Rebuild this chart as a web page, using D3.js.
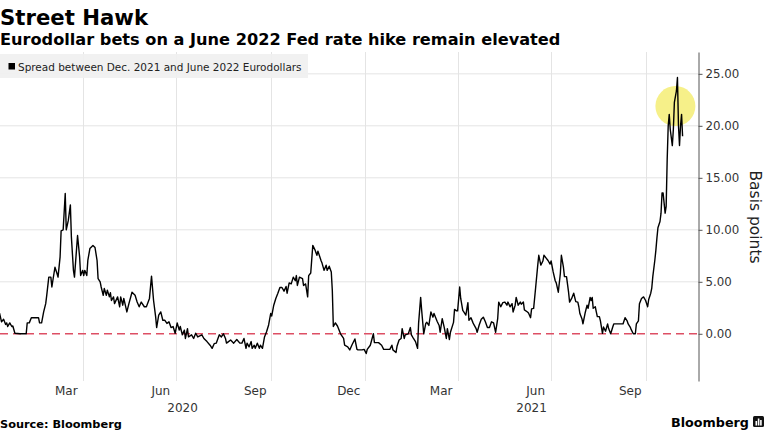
<!DOCTYPE html>
<html><head><meta charset="utf-8">
<script src="https://cdn.jsdelivr.net/npm/d3@7"></script>
<style>body{margin:0;background:#fff}svg{display:block}</style>
</head><body>
<svg id="c" width="768" height="432"></svg>
<script>
const title = "Street Hawk";
const subtitle = "Eurodollar bets on a June 2022 Fed rate hike remain elevated";
const legendLabel = "Spread between Dec. 2021 and June 2022 Eurodollars";
const axisTitle = "Basis points";
const source = "Source: Bloomberg";

// [date, spread in basis points]
const spread = [
["2020-01-11",2.0],["2020-01-13",1.15],["2020-01-15",1.4],["2020-01-17",0.9],["2020-01-18",1.05],["2020-01-19",0.7],["2020-01-21",1.05],["2020-01-23",0.7],["2020-01-24",0.75],["2020-01-26",0.05],["2020-01-31",0.0],
["2020-02-06",0.0],["2020-02-07",1.05],["2020-02-09",1.05],["2020-02-11",1.55],["2020-02-18",1.55],["2020-02-19",1.05],["2020-02-21",1.05],["2020-02-23",2.1],["2020-02-25",2.9],["2020-02-26",3.7],["2020-02-28",5.45],
["2020-03-01",5.45],["2020-03-02",4.5],["2020-03-03",5.15],["2020-03-05",6.4],["2020-03-07",5.8],["2020-03-08",5.45],["2020-03-10",7.4],["2020-03-11",9.9],["2020-03-13",10.0],["2020-03-15",13.5],["2020-03-16",10.0],["2020-03-18",10.9],["2020-03-20",12.4],["2020-03-21",9.3],["2020-03-23",6.1],["2020-03-24",5.45],["2020-03-27",9.45],["2020-03-29",7.4],["2020-03-30",5.6],
["2020-04-01",6.1],["2020-04-02",5.6],["2020-04-03",6.1],["2020-04-05",5.6],["2020-04-06",7.05],["2020-04-08",8.2],["2020-04-11",8.5],["2020-04-13",8.3],["2020-04-15",7.05],["2020-04-16",5.3],["2020-04-18",5.0],["2020-04-19",4.5],["2020-04-21",3.7],["2020-04-22",4.35],["2020-04-24",3.7],["2020-04-25",4.2],["2020-04-27",3.55],["2020-04-28",3.95],["2020-04-29",3.2],
["2020-05-01",3.55],["2020-05-02",2.9],["2020-05-05",3.55],["2020-05-07",2.6],["2020-05-08",3.55],["2020-05-10",2.75],["2020-05-11",3.4],["2020-05-14",2.1],["2020-05-16",2.9],["2020-05-19",4.0],["2020-05-22",3.7],["2020-05-24",3.05],["2020-05-26",2.6],["2020-05-28",3.05],["2020-05-31",2.6],
["2020-06-02",2.6],["2020-06-05",3.4],["2020-06-07",5.55],["2020-06-09",3.2],["2020-06-11",1.65],["2020-06-12",0.6],["2020-06-14",1.8],["2020-06-16",2.1],["2020-06-18",1.3],["2020-06-20",1.3],["2020-06-22",1.0],["2020-06-24",1.15],["2020-06-26",0.6],["2020-06-28",0.7],["2020-06-30",0.05],
["2020-07-02",1.05],["2020-07-04",0.35],["2020-07-05",0.7],["2020-07-07",-0.1],["2020-07-09",0.35],["2020-07-10",-0.45],["2020-07-12",0.5],["2020-07-13",-0.3],["2020-07-16",-0.1],["2020-07-18",-0.45],["2020-07-20",0.05],["2020-07-22",-0.3],["2020-07-26",-0.1],["2020-07-28",-0.45],["2020-07-31",-0.75],
["2020-08-03",-1.1],["2020-08-05",-1.4],["2020-08-07",-0.95],["2020-08-09",-0.9],["2020-08-12",-0.1],["2020-08-14",-0.3],["2020-08-16",0.0],["2020-08-18",-0.45],["2020-08-19",-0.9],["2020-08-21",-0.75],["2020-08-23",-0.6],["2020-08-26",-0.9],["2020-08-29",-0.55],
["2020-09-01",-0.9],["2020-09-03",-0.9],["2020-09-05",-0.45],["2020-09-07",-1.4],["2020-09-08",-0.9],["2020-09-10",-1.25],["2020-09-12",-0.75],["2020-09-13",-1.4],["2020-09-15",-1.1],["2020-09-16",-1.4],["2020-09-18",-0.9],["2020-09-20",-1.4],["2020-09-21",-1.1],["2020-09-23",-1.4],["2020-09-25",-0.3],["2020-09-27",0.2],["2020-09-29",0.85],
["2020-10-01",1.95],["2020-10-02",1.7],["2020-10-04",2.75],["2020-10-06",3.4],["2020-10-08",3.9],["2020-10-10",4.45],["2020-10-12",4.45],["2020-10-14",4.1],["2020-10-16",4.55],["2020-10-17",3.9],["2020-10-19",4.9],["2020-10-21",4.8],["2020-10-23",5.45],["2020-10-25",5.1],["2020-10-26",5.6],["2020-10-27",4.65],["2020-10-29",5.45],
["2020-11-01",5.3],["2020-11-02",4.65],["2020-11-04",4.8],["2020-11-06",3.55],["2020-11-07",5.6],["2020-11-09",5.85],["2020-11-11",8.5],["2020-11-13",8.1],["2020-11-15",7.55],["2020-11-16",7.95],["2020-11-19",7.05],["2020-11-20",6.8],["2020-11-22",6.1],["2020-11-24",6.6],["2020-11-25",6.1],["2020-11-27",6.5],["2020-11-29",5.95],["2020-11-30",4.2],
["2020-12-01",0.7],["2020-12-03",1.05],["2020-12-05",0.75],["2020-12-06",0.5],["2020-12-08",0.0],["2020-12-10",-0.3],["2020-12-11",-0.45],["2020-12-12",-1.1],["2020-12-15",-1.25],["2020-12-17",-1.55],["2020-12-19",-1.1],["2020-12-22",-0.5],["2020-12-24",-1.5],["2020-12-25",-1.55],["2020-12-29",-1.55],["2020-12-31",-1.5],
["2021-01-02",-1.9],["2021-01-03",-1.5],["2021-01-06",-1.1],["2021-01-09",0.0],["2021-01-10",-0.85],["2021-01-14",-0.85],["2021-01-17",-1.1],["2021-01-19",-1.5],["2021-01-22",-1.5],["2021-01-25",-1.5],["2021-01-27",-1.1],["2021-01-28",-1.55],["2021-01-31",-1.8],
["2021-02-01",-1.2],["2021-02-03",-0.6],["2021-02-05",-0.45],["2021-02-06",0.5],["2021-02-08",-0.45],["2021-02-09",-0.1],["2021-02-12",0.0],["2021-02-14",0.6],["2021-02-15",-0.1],["2021-02-17",-0.45],["2021-02-19",-0.75],["2021-02-21",-1.4],["2021-02-22",1.0],["2021-02-24",3.5],["2021-02-25",2.25],["2021-02-27",0.0],
["2021-03-01",1.0],["2021-03-02",1.1],["2021-03-04",0.8],["2021-03-06",2.1],["2021-03-08",1.6],["2021-03-09",1.95],["2021-03-12",1.2],["2021-03-14",0.8],["2021-03-15",0.15],["2021-03-17",1.45],["2021-03-19",0.6],["2021-03-21",-0.45],["2021-03-22",0.5],["2021-03-24",-0.55],["2021-03-25",0.15],["2021-03-28",1.1],["2021-03-29",2.35],["2021-03-31",2.2],
["2021-04-01",2.2],["2021-04-03",4.5],["2021-04-04",3.4],["2021-04-06",2.25],["2021-04-07",2.1],["2021-04-09",1.8],["2021-04-11",3.0],["2021-04-12",1.3],["2021-04-14",1.55],["2021-04-16",1.05],["2021-04-17",0.85],["2021-04-19",0.5],["2021-04-20",0.15],["2021-04-22",0.85],["2021-04-24",1.4],["2021-04-26",1.6],["2021-04-28",1.15],["2021-04-30",0.6],
["2021-05-02",0.6],["2021-05-04",1.15],["2021-05-06",1.05],["2021-05-08",0.15],["2021-05-10",1.45],["2021-05-11",3.05],["2021-05-13",2.6],["2021-05-15",3.0],["2021-05-17",3.05],["2021-05-19",2.75],["2021-05-20",3.05],["2021-05-22",2.6],["2021-05-24",2.9],["2021-05-25",2.1],["2021-05-27",2.75],["2021-05-28",3.5],["2021-05-30",2.75],
["2021-06-01",3.05],["2021-06-02",2.85],["2021-06-04",3.05],["2021-06-05",2.3],["2021-06-08",2.1],["2021-06-09",2.0],["2021-06-11",1.55],["2021-06-12",2.4],["2021-06-14",2.45],["2021-06-16",4.5],["2021-06-18",6.6],["2021-06-19",7.55],["2021-06-21",6.6],["2021-06-23",7.0],["2021-06-24",7.55],["2021-06-26",7.3],["2021-06-28",7.05],["2021-06-30",6.7],
["2021-07-01",7.0],["2021-07-03",5.95],["2021-07-05",5.1],["2021-07-06",4.9],["2021-07-08",4.0],["2021-07-10",5.8],["2021-07-11",7.55],["2021-07-13",6.4],["2021-07-14",5.5],["2021-07-16",5.5],["2021-07-18",4.0],["2021-07-19",3.05],["2021-07-21",3.4],["2021-07-23",3.9],["2021-07-25",3.1],["2021-07-27",3.05],["2021-07-28",2.6],["2021-07-29",1.95],["2021-07-31",1.45],
["2021-08-01",0.95],["2021-08-03",1.95],["2021-08-05",2.75],["2021-08-06",2.45],["2021-08-08",3.5],["2021-08-09",3.2],["2021-08-10",3.5],["2021-08-11",2.45],["2021-08-13",2.6],["2021-08-14",2.1],["2021-08-15",1.65],["2021-08-17",1.65],["2021-08-18",1.25],["2021-08-20",0.05],["2021-08-21",0.65],["2021-08-23",0.25],["2021-08-25",0.95],["2021-08-26",0.5],["2021-08-28",0.0],["2021-08-30",0.65],["2021-08-31",0.95],
["2021-09-06",0.95],["2021-09-09",0.95],["2021-09-11",1.55],["2021-09-13",1.25],["2021-09-14",0.95],["2021-09-16",0.65],["2021-09-17",0.4],["2021-09-19",0.0],["2021-09-21",0.0],["2021-09-22",0.95],["2021-09-24",1.25],["2021-09-25",2.9],["2021-09-27",3.4],["2021-09-29",3.55],
["2021-10-01",3.2],["2021-10-03",2.6],["2021-10-04",3.3],["2021-10-06",3.9],["2021-10-07",4.4],["2021-10-08",5.5],["2021-10-10",7.1],["2021-10-11",8.05],["2021-10-12",9.2],["2021-10-13",10.2],["2021-10-15",10.8],["2021-10-16",11.6],["2021-10-17",13.55],["2021-10-18",13.55],["2021-10-20",11.6],["2021-10-21",12.25],["2021-10-22",16.75],["2021-10-23",20.0],["2021-10-24",21.1],["2021-10-25",19.65],["2021-10-27",18.1],["2021-10-28",19.65],["2021-10-29",22.25],["2021-10-31",23.35],
["2021-11-01",24.65],["2021-11-02",20.0],["2021-11-03",18.1],["2021-11-04",20.0],["2021-11-05",21.1],["2021-11-06",19.0]
];

const yTicks = [0, 5, 10, 15, 20, 25];
const monthLabelDates = ["2020-03-16","2020-06-16","2020-09-16","2020-12-16","2021-03-16","2021-06-16","2021-09-16"];
const monthLabels = ["Mar","Jun","Sep","Dec","Mar","Jun","Sep"];
const quarterGrid = ["2020-04-01","2020-07-01","2020-10-01","2021-01-01","2021-04-01","2021-07-01","2021-10-01"];
const years = ["2020","2021"];
const xDomain = ["2020-01-11T12:00","2021-11-21T00:00"];
const yDomain = [-4.54, 27.1];
const highlight = {date: "2021-10-30", value: 21.9};

const parse = d3.utcParse("%Y-%m-%d");
const parseT = d3.utcParse("%Y-%m-%dT%H:%M");
const svg = d3.select("#c");
const plot = {left: 0, right: 698, top: 52, bottom: 381};

const x = d3.scaleUtc().domain(xDomain.map(parseT)).range([plot.left, plot.right]);
const y = d3.scaleLinear().domain(yDomain).range([plot.bottom, plot.top]);

const FONT = "'DejaVu Sans', Verdana, sans-serif";
function fit(sel, target) {
  const w = sel.node().getComputedTextLength();
  const fs = parseFloat(sel.attr("font-size"));
  sel.attr("font-size", (fs * target / w).toFixed(2));
}

// Titles
fit(svg.append("text").attr("x", 0).attr("y", 25).attr("font-family", FONT).attr("font-weight", "bold")
  .attr("font-size", 24).attr("fill", "#000").text(title), 148);
fit(svg.append("text").attr("x", 0).attr("y", 44.5).attr("font-family", FONT).attr("font-weight", "bold")
  .attr("font-size", 16).attr("fill", "#000").text(subtitle), 561);

// Horizontal gridlines
svg.append("g").selectAll("line").data(yTicks.filter(v => v !== 0)).join("line")
  .attr("x1", plot.left).attr("x2", plot.right)
  .attr("y1", d => y(d)).attr("y2", d => y(d))
  .attr("stroke", "#e4e4e4").attr("stroke-width", 1);

// Vertical gridlines (quarter boundaries)
svg.append("g").selectAll("line").data(quarterGrid.map(parse)).join("line")
  .attr("x1", d => Math.round(x(d)) + 0.5).attr("x2", d => Math.round(x(d)) + 0.5)
  .attr("y1", plot.top).attr("y2", plot.bottom)
  .attr("stroke", "#e4e4e4").attr("stroke-width", 1);

// Legend box
const lg = svg.append("g");
lg.append("rect").attr("x", 0).attr("y", 54).attr("width", 308).attr("height", 24).attr("fill", "#f0f0f0").attr("fill-opacity", 0.92);
lg.append("rect").attr("x", 8.5).attr("y", 63).attr("width", 6.5).attr("height", 6.5).attr("fill", "#000");
fit(lg.append("text").attr("x", 18).attr("y", 70.5).attr("font-family", FONT).attr("font-size", 12)
  .attr("fill", "#222").text(legendLabel), 284);

// Zero line
svg.append("line").attr("x1", plot.left).attr("x2", plot.right)
  .attr("y1", y(0)).attr("y2", y(0))
  .attr("stroke", "#dd4f64").attr("stroke-width", 1.5).attr("stroke-dasharray", "8,5");

// Highlight circle
svg.append("circle").attr("cx", x(parse(highlight.date))).attr("cy", y(highlight.value)).attr("r", 20)
  .attr("fill", "#f4ec6c").attr("fill-opacity", 0.8);

// Line
const line = d3.line().x(d => x(parse(d[0]))).y(d => y(d[1]));
svg.append("path").datum(spread).attr("d", line)
  .attr("fill", "none").attr("stroke", "#000").attr("stroke-width", 1.4).attr("stroke-linejoin", "round");

// Right axis
const yAxis = d3.axisRight(y).tickValues(yTicks).tickFormat(d3.format(".2f")).tickSize(4).tickSizeOuter(0).tickPadding(3);
const ga = svg.append("g").attr("transform", `translate(${plot.right + 0.5},0)`).call(yAxis);
ga.select(".domain").attr("stroke", "#555");
ga.selectAll(".tick line").attr("stroke", "#555");
ga.selectAll(".tick text").attr("font-family", FONT).attr("font-size", 11.8).attr("fill", "#333");

// Axis title
svg.append("text").attr("transform", `translate(750,217) rotate(90)`).attr("text-anchor", "middle")
  .attr("font-family", FONT).attr("font-size", 15.5).attr("fill", "#222").text(axisTitle);

// X labels
svg.append("g").selectAll("text").data(monthLabelDates).join("text")
  .attr("x", d => x(parse(d))).attr("y", 395).attr("text-anchor", "middle")
  .attr("font-family", FONT).attr("font-size", 12).attr("fill", "#333")
  .text((d, i) => monthLabels[i]);
svg.append("g").selectAll("text").data(years).join("text")
  .attr("x", d => {
    const a = Math.max(x(parse(d + "-01-01")), plot.left);
    const b = Math.min(x(parse((+d + 1) + "-01-01")), plot.right);
    return (a + b) / 2;
  })
  .attr("y", 412).attr("text-anchor", "middle")
  .attr("font-family", FONT).attr("font-size", 12).attr("fill", "#333").text(d => d);

// Footer
fit(svg.append("text").attr("x", 0).attr("y", 428).attr("font-family", FONT).attr("font-weight", "bold")
  .attr("font-size", 12).attr("fill", "#000").text(source), 122);
fit(svg.append("text").attr("x", 671).attr("y", 427).attr("font-family", FONT).attr("font-weight", "bold")
  .attr("font-size", 14).attr("fill", "#000").text("Bloomberg"), 78);
const logo = svg.append("g").attr("transform", "translate(753,416)");
logo.append("rect").attr("width", 11).attr("height", 11).attr("rx", 1.5).attr("fill", "#111");
logo.append("rect").attr("x", 2.5).attr("y", 5).attr("width", 1.6).attr("height", 4.5).attr("fill", "#fff");
logo.append("rect").attr("x", 4.8).attr("y", 2.5).attr("width", 1.6).attr("height", 7).attr("fill", "#fff");
logo.append("rect").attr("x", 7.1).attr("y", 4).attr("width", 1.6).attr("height", 5.5).attr("fill", "#fff");
</script>
</body></html>
